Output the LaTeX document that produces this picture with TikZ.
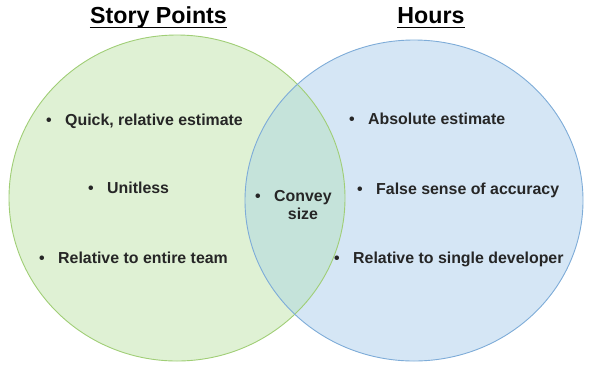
\documentclass[tikz,border=0pt]{standalone}
\usepackage{fontspec}
\setmainfont{Liberation Sans}
\definecolor{gfill}{RGB}{223,241,212}
\definecolor{gline}{RGB}{160,206,118}
\definecolor{bfill}{RGB}{213,230,245}
\definecolor{bline}{RGB}{126,172,216}
\definecolor{ofill}{RGB}{197,227,218}
\definecolor{txt}{RGB}{38,38,38}
\newcommand{\bul}{\llap{\textbullet\hspace{13.5bp}}}
\begin{document}
\begin{tikzpicture}[x=1bp,y=-1bp,
  itemtext/.style={anchor=base west,inner sep=0pt,text=txt,font=\fontsize{15.9bp}{18bp}\selectfont\bfseries},
  titletext/.style={anchor=base,inner sep=0pt,text=black,font=\fontsize{23.2bp}{27bp}\selectfont\bfseries},
  uline/.style={line width=1.8bp,black}]
\useasboundingbox (0,0) rectangle (596,377);
% fills
\fill[gfill] (177,198) ellipse [x radius=168, y radius=163];
\fill[bfill] (414,200.5) ellipse [x radius=169, y radius=160.5];
\begin{scope}
  \clip (177,198) ellipse [x radius=168, y radius=163];
  \fill[ofill] (414,200.5) ellipse [x radius=169, y radius=160.5];
\end{scope}
% outlines
\draw[gline,line width=0.9bp] (177,198) ellipse [x radius=168, y radius=163];
\draw[bline,line width=0.9bp] (414,200.5) ellipse [x radius=169, y radius=160.5];
% titles
\node[titletext] (t1) at (158.5,23.5) {Story Points};
\node[titletext] (t2) at (431,23.5) {Hours};
\draw[uline] ([yshift=-4bp]t1.base west) -- ([yshift=-4bp]t1.base east);
\draw[uline] ([yshift=-4bp]t2.base west) -- ([yshift=-4bp]t2.base east);
% items left
\node[itemtext] (l1) at (65,125.5) {\bul Quick, relative estimate};
\node[itemtext] (l2) at (107,193.5) {\bul Unitless};
\node[itemtext] (l3) at (58,263.5) {\bul Relative to entire team};
% middle
\node[itemtext] (m1) at (274,201.5) {\bul Convey};
\node[itemtext,anchor=base] (m2) at (303,219.5) {size};
% right
\node[itemtext] (r1) at (368,124.5) {\bul Absolute estimate};
\node[itemtext] (r2) at (376,194.5) {\bul False sense of accuracy};
\node[itemtext] (r3) at (353,263.5) {\bul Relative to single developer};
\end{tikzpicture}
\end{document}
